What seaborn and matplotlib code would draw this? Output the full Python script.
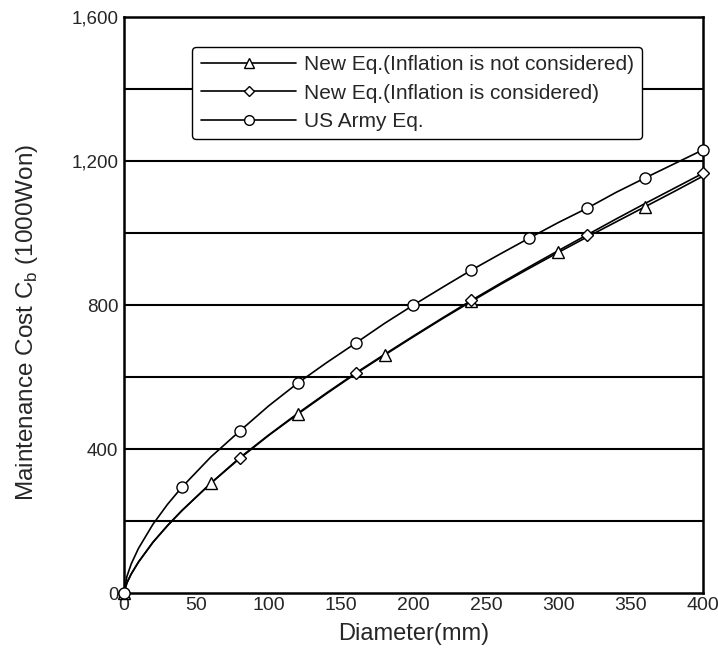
import pandas as pd
import seaborn as sns
import matplotlib.pyplot as plt
from matplotlib.ticker import FuncFormatter, MultipleLocator

# diameter (mm) and cost values
diametro = [0, 2, 5, 10, 20, 30, 40, 60, 80, 100, 120, 140, 160, 180, 200,
            220, 240, 260, 280, 300, 320, 340, 360, 380, 400]
sem_inflacao = [0, 28, 53, 86, 141, 187, 229, 305, 374, 438, 497, 554, 609, 661, 712,
                762, 810, 857, 902, 946, 989, 1031, 1073, 1115, 1158]
com_inflacao = [0, 28, 53, 86, 141, 187, 229, 305, 376, 439, 499, 556, 611, 663, 714,
                764, 813, 860, 906, 951, 995, 1039, 1082, 1124, 1166]
us_army = [0, 46, 81, 124, 191, 246, 294, 378, 450, 520, 583, 640, 694, 749, 800,
           849, 897, 942, 986, 1029, 1069, 1113, 1153, 1192, 1231]

rotulos = ["New Eq.(Inflation is not considered)",
           "New Eq.(Inflation is considered)",
           "US Army Eq."]

df = pd.DataFrame({"d": diametro, "a": sem_inflacao, "b": com_inflacao, "c": us_army})

sns.set_style("white")
plt.rcParams["font.family"] = ["Liberation Sans", "DejaVu Sans"]

fig = plt.figure(figsize=(7.18, 6.56), dpi=100)
ax = fig.add_axes([0.1727, 0.096, 0.8063, 0.878])

for y in range(200, 1600, 200):
    ax.axhline(y, color="black", lw=1.5, zorder=1)

series = [("a", "^", 60), ("b", "D", 80), ("c", "o", 40)]
for (col, mk, passo), rot in zip(series, rotulos):
    sns.lineplot(data=df, x="d", y=col, ax=ax, color="black", lw=1.2, zorder=3)
    pts = df[df["d"] % passo == 0]
    ax.plot(pts["d"], pts[col], linestyle="none", marker=mk,
            ms=8 if mk != "D" else 6, mfc="white", mec="black", mew=1.0,
            zorder=4, clip_on=False)
    ax.plot([], [], color="black", lw=1.2, marker=mk, ms=7 if mk != "D" else 5,
            mfc="white", mec="black", mew=1.0, label=rot)

ax.set_xlim(0, 400)
ax.set_ylim(0, 1600)
ax.xaxis.set_major_locator(MultipleLocator(50))
ax.yaxis.set_major_locator(MultipleLocator(400))
ax.yaxis.set_major_formatter(FuncFormatter(lambda v, p: f"{int(v):,}"))
ax.tick_params(axis="x", direction="in", length=6, width=1.2, labelsize=14, pad=3)
ax.tick_params(axis="y", length=0, labelsize=13.5, pad=4)
for s in ax.spines.values():
    s.set_color("black")
    s.set_linewidth(1.8)

ax.set_xlabel("Diameter(mm)", fontsize=17, labelpad=6)
ax.set_ylabel("Maintenance Cost C$_\\mathregular{b}$ (1000Won)", fontsize=17.5)
ax.yaxis.set_label_coords(-0.145, 0.47)

leg = ax.legend(loc="upper left", bbox_to_anchor=(0.1, 0.966), fontsize=15,
                handlelength=4.6, handletextpad=0.35, labelspacing=0.45,
                frameon=True, fancybox=True, borderpad=0.4)
leg.get_frame().set_edgecolor("black")
leg.get_frame().set_linewidth(1.0)
leg.get_frame().set_alpha(1)
leg.set_zorder(5)

fig.savefig("out.png", dpi=100)
